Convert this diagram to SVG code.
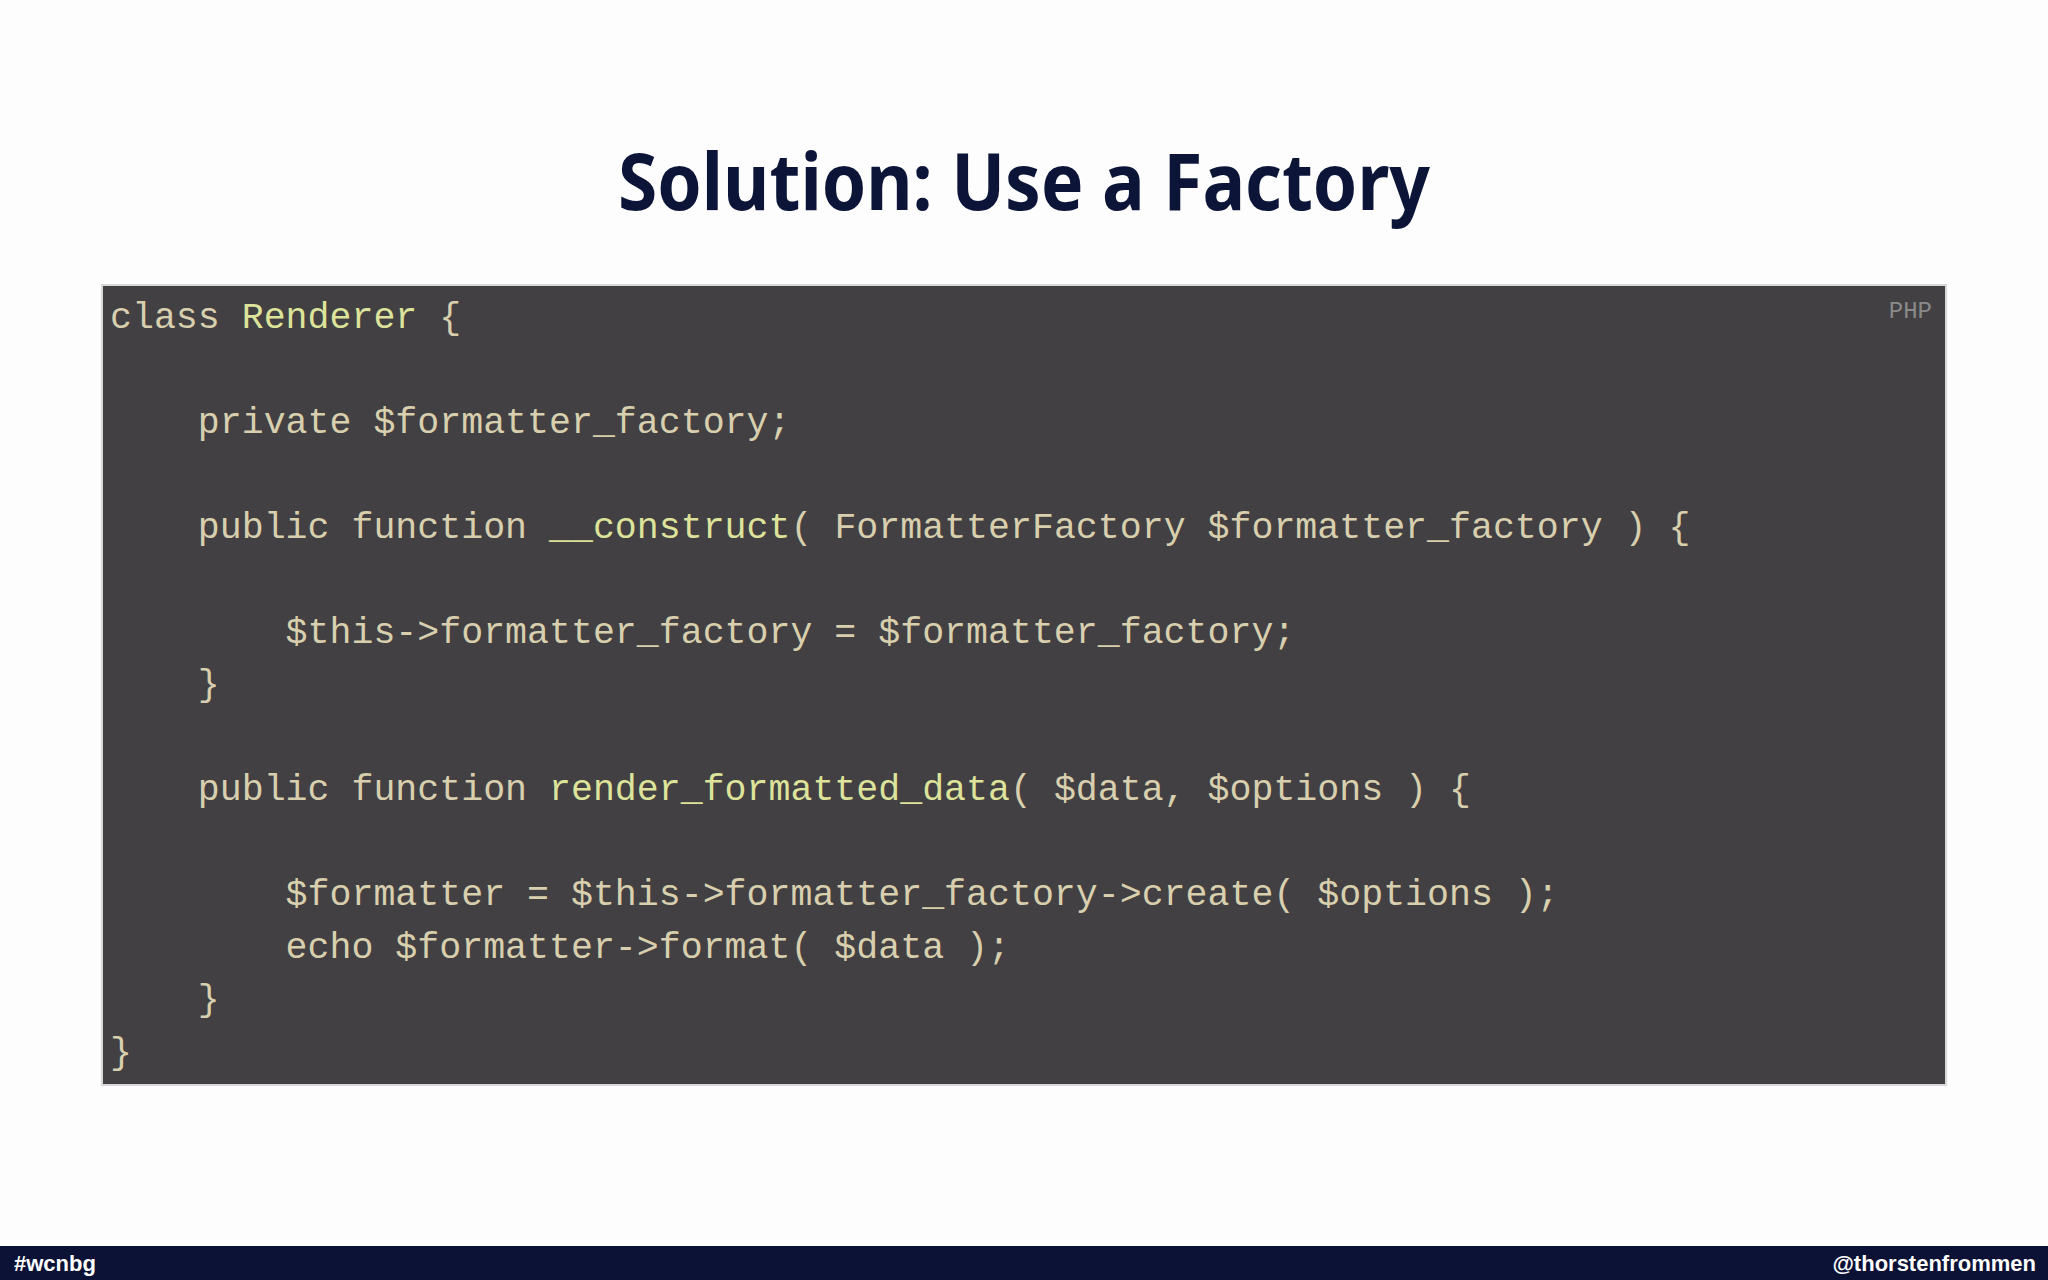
<svg xmlns="http://www.w3.org/2000/svg" width="2048" height="1280" viewBox="0 0 2048 1280">
<style>
.c{font-family:"Liberation Mono",monospace;font-size:36.6px;fill:#d8cfae;white-space:pre}
.n{fill:#dde39a}
.f{font-family:"Liberation Sans",Arial,sans-serif;font-size:22px;fill:#fff;font-weight:bold}
</style>
<rect width="2048" height="1280" fill="#fdfdfe"/>
<g id="title"><text x="1024" y="210" text-anchor="middle" font-family="Noto Sans, Open Sans, sans-serif" font-weight="bold" font-size="78" fill="#0c1538" textLength="812" lengthAdjust="spacingAndGlyphs">Solution: Use a Factory</text></g>
<g id="code">
<rect x="102" y="285" width="1844" height="800" fill="#424042" stroke="#d8d8d8" stroke-width="2"/>
<text x="1932" y="318" text-anchor="end" font-family="Liberation Mono, monospace" font-size="24" fill="#8a8a8a">PHP</text>
<text class="c" x="110" y="328">class <tspan class="n">Renderer</tspan> {</text>
<text class="c" x="110" y="433">    private $formatter_factory;</text>
<text class="c" x="110" y="538">    public function <tspan class="n">__construct</tspan>( FormatterFactory $formatter_factory ) {</text>
<text class="c" x="110" y="643">        $this-&gt;formatter_factory = $formatter_factory;</text>
<text class="c" x="110" y="695">    }</text>
<text class="c" x="110" y="800">    public function <tspan class="n">render_formatted_data</tspan>( $data, $options ) {</text>
<text class="c" x="110" y="905">        $formatter = $this-&gt;formatter_factory-&gt;create( $options );</text>
<text class="c" x="110" y="958">        echo $formatter-&gt;format( $data );</text>
<text class="c" x="110" y="1010">    }</text>
<text class="c" x="110" y="1063">}</text>
</g>
<g id="footer">
<rect x="0" y="1246" width="2048" height="34" fill="#0b1236"/>
<text class="f" x="14" y="1271">#wcnbg</text>
<text class="f" x="2036" y="1271" text-anchor="end">@thorstenfrommen</text>
</g>
</svg>
